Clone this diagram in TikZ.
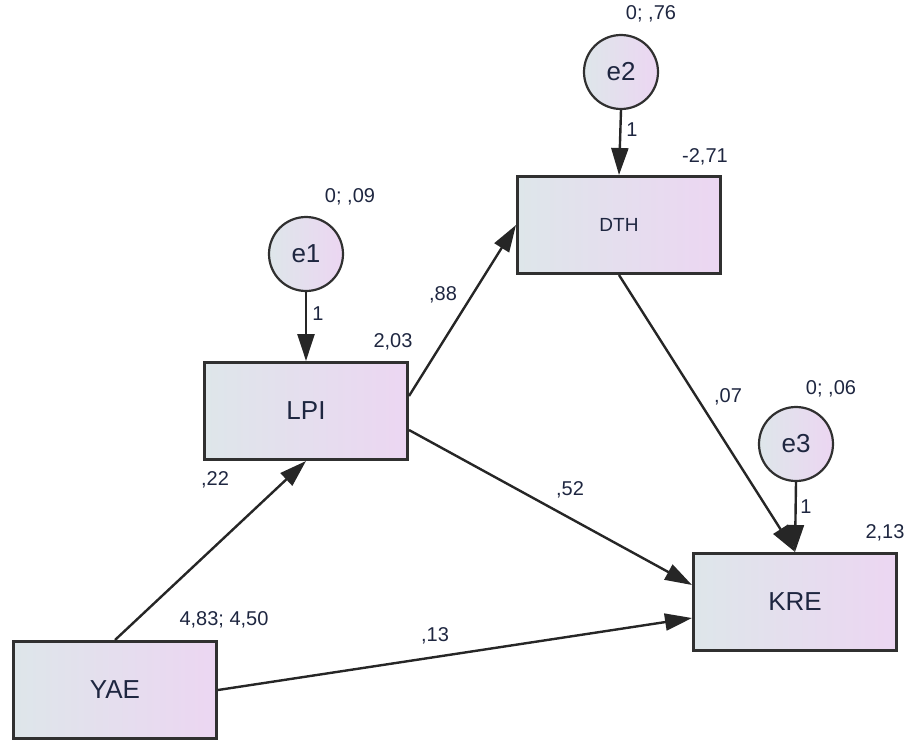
\documentclass[tikz,border=0pt]{standalone}
\usepackage{fontspec}
\setmainfont{Liberation Sans}
\usetikzlibrary{arrows.meta}
\definecolor{fillL}{HTML}{DEE6EA}
\definecolor{fillR}{HTML}{ECD6F2}
\definecolor{edgec}{HTML}{303030}
\definecolor{txt}{HTML}{1E2640}
\begin{document}
\begin{tikzpicture}[x=1bp,y=-1bp,
  varbox/.style={rectangle, draw=edgec, line width=3bp, left color=fillL, right color=fillR,
    minimum width=203bp, minimum height=97bp, inner sep=0pt, text=txt,
    font=\fontsize{26bp}{30bp}\selectfont},
  errc/.style={circle, draw=edgec, line width=2.2bp, left color=fillL, right color=fillR,
    minimum size=74bp, inner sep=0pt, text=txt, font=\fontsize{26bp}{30bp}\selectfont},
  conn/.style={draw=black!85, line width=2.4bp, -{Triangle[length=27bp,width=17bp]}},
  lbl/.style={text=txt, font=\fontsize{20bp}{23bp}\selectfont, inner sep=0pt}
]
\useasboundingbox (0,0) rectangle (909,747);

% observed variables
\node[varbox] (YAE) at (115,690) {YAE};
\node[varbox] (LPI) at (306,411) {LPI};
\node[varbox, font=\fontsize{19bp}{22bp}\selectfont] (DTH) at (619,225) {DTH};
\node[varbox] (KRE) at (795,602) {KRE};

% error terms
\node[errc] (e1) at (306,254) {e1};
\node[errc] (e2) at (621,72) {e2};
\node[errc] (e3) at (796,444) {e3};

% connectors
\draw[conn] (e1.south) -- (LPI.north);
\draw[conn] (e2.south) -- (DTH.north);
\draw[conn] (e3.south) -- (KRE.north);
\draw[conn] ([yshift=15bp]LPI.east) -- (DTH.west);
\draw[conn] ([yshift=-19bp]LPI.east) -- ([yshift=17bp]KRE.west);
\draw[conn] (DTH.south) -- (KRE.north);
\draw[conn] (YAE.north) -- (LPI.south);
\draw[conn] (YAE.east) -- ([yshift=-16bp]KRE.west);

% labels
\node[lbl] (v1) at (350,197) {0; ,09};
\node[lbl] (v2) at (651,14) {0; ,76};
\node[lbl] (v3) at (831,389) {0; ,06};
\node[lbl] (i1) at (393,342) {2,03};
\node[lbl] (i2) at (705,157) {-2,71};
\node[lbl] (i3) at (885,533) {2,13};
\node[lbl] (m1) at (224,620) {4,83; 4,50};
\node[lbl] (w1) at (318,314) {1};
\node[lbl] (w2) at (632,130) {1};
\node[lbl] (w3) at (806,507) {1};
\node[lbl] (p1) at (443,295) {,88};
\node[lbl] (p2) at (570,490) {,52};
\node[lbl] (p3) at (728,397) {,07};
\node[lbl] (p4) at (215,480) {,22};
\node[lbl] (p5) at (435,636) {,13};
\end{tikzpicture}
\end{document}
